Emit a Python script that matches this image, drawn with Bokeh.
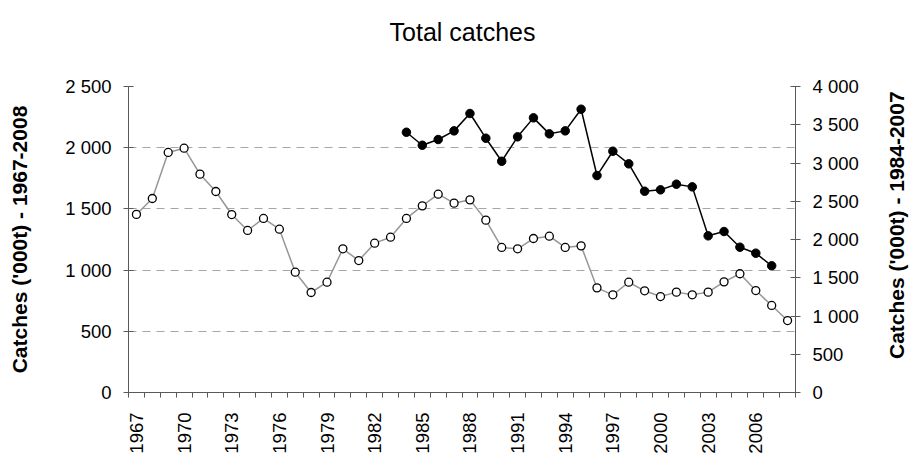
import math
from bokeh.plotting import figure
from bokeh.models import Range1d, LinearAxis, FixedTicker, Grid
from bokeh.layouts import column, row
from bokeh.core.properties import value
from bokeh.embed import file_html
from bokeh.resources import INLINE

# ---- data ----
years_all = list(range(1967, 2009))
catch_1967_2008 = [1455, 1585, 1961, 1996, 1784, 1642, 1454, 1324, 1422, 1334,
                   983, 817, 901, 1174, 1078, 1220, 1269, 1422, 1525, 1620,
                   1547, 1574, 1408, 1185, 1174, 1258, 1277, 1185, 1198, 855,
                   798, 901, 831, 784, 820, 798, 820, 904, 970, 833, 711, 588]
years_recent = list(range(1984, 2008))
catch_1984_2007 = [3402, 3232, 3307, 3420, 3647, 3324, 3023, 3342, 3590, 3381,
                   3420, 3703, 2836, 3154, 2989, 2631, 2649, 2723, 2688, 2048,
                   2104, 1899, 1821, 1656]
x_tick_years = list(range(1967, 2008, 3))
left_ticks = [0, 500, 1000, 1500, 2000, 2500]
right_ticks = [0, 500, 1000, 1500, 2000, 2500, 3000, 3500, 4000]
title_text = "Total catches"
left_title = "Catches ('000t) - 1967-2008"
right_title = "Catches ('000t) - 1984-2007"

FONT = "Liberation Sans"
AXIS_COL = "#595959"
TICK_FS = "18.5px"

W, H = 909, 456
TOP_H = 50          # strip holding the chart title
RIGHT_W = 29        # strip holding the right axis title
MAIN_W = W - RIGHT_W
MAIN_H = H - TOP_H


def fmt(v):
    return "{:,}".format(v).replace(",", " ")


def text_strip(width, height):
    f = figure(width=width, height=height, output_backend="svg", toolbar_location=None,
               x_range=Range1d(0, width), y_range=Range1d(0, height),
               x_axis_type=None, y_axis_type=None, min_border=0)
    f.outline_line_color = None
    f.grid.visible = False
    return f


# ---- title strip ----
ttl = text_strip(W, TOP_H)
ttl.text(x=[462], y=[TOP_H - 31], text=[title_text], text_align="center",
         text_baseline="alphabetic", text_font=value(FONT), text_font_size="25px",
         text_color="black")

# ---- main chart ----
X0, X1 = years_all[0] - 0.5, years_all[-1] + 0.5
p = figure(width=MAIN_W, height=MAIN_H, output_backend="svg", toolbar_location=None,
           x_range=Range1d(X0, X1), y_range=Range1d(0, 2500),
           x_axis_type=None, y_axis_type=None,
           min_border_left=128, min_border_right=MAIN_W - 795,
           min_border_top=86 - TOP_H, min_border_bottom=H - 392)
p.outline_line_color = None
p.xgrid.visible = False
p.extra_y_ranges = {"right": Range1d(0, 4000)}

# bottom axis: ticks between categories, labels every 3 years
xax = LinearAxis(ticker=FixedTicker(ticks=x_tick_years,
                                    minor_ticks=[y - 0.5 for y in years_all] + [X1]))
xax.major_label_overrides = {y: str(y) for y in x_tick_years}
xax.major_label_orientation = math.pi / 2
xax.major_tick_line_color = None
xax.minor_tick_in = 0
xax.minor_tick_out = 5
xax.minor_tick_line_color = AXIS_COL
xax.axis_line_color = AXIS_COL
xax.major_label_standoff = 14
xax.major_label_text_font = FONT
xax.major_label_text_font_size = TICK_FS
xax.major_label_text_color = "black"
p.add_layout(xax, "below")

# left axis
lax = LinearAxis(ticker=FixedTicker(ticks=left_ticks, minor_ticks=[]),
                 axis_label=left_title)
lax.major_label_overrides = {v: fmt(v) for v in left_ticks}
lax.major_tick_in = 5
lax.major_tick_out = 5
lax.major_tick_line_color = AXIS_COL
lax.axis_line_color = AXIS_COL
lax.major_label_standoff = 12
lax.major_label_text_font = FONT
lax.major_label_text_font_size = TICK_FS
lax.major_label_text_color = "black"
lax.axis_label_text_font = FONT
lax.axis_label_text_font_size = "21px"
lax.axis_label_text_font_style = "bold"
lax.axis_label_text_color = "black"
lax.axis_label_standoff = 31
p.add_layout(lax, "left")

# right axis
rax = LinearAxis(y_range_name="right", ticker=FixedTicker(ticks=right_ticks, minor_ticks=[]))
rax.major_label_overrides = {v: fmt(v) for v in right_ticks}
rax.major_tick_in = 5
rax.major_tick_out = 5
rax.major_tick_line_color = AXIS_COL
rax.axis_line_color = AXIS_COL
rax.major_label_standoff = 12
rax.major_label_text_font = FONT
rax.major_label_text_font_size = TICK_FS
rax.major_label_text_color = "black"
p.add_layout(rax, "right")

# dashed horizontal gridlines
g = Grid(dimension=1, ticker=FixedTicker(ticks=left_ticks[1:]))
g.grid_line_color = "#a6a6a6"
g.grid_line_dash = "8 6"
g.grid_line_width = 1
p.add_layout(g)

# series
p.line(years_all, catch_1967_2008, line_color="#969696", line_width=1.5)
p.scatter(years_all, catch_1967_2008, size=8, marker="circle",
          fill_color="white", line_color="black", line_width=1.3)
p.line(years_recent, catch_1984_2007, y_range_name="right",
       line_color="black", line_width=1.5)
p.scatter(years_recent, catch_1984_2007, y_range_name="right", size=8.5,
          marker="circle", fill_color="black", line_color="black")

# ---- right axis title strip (reads bottom-to-top) ----
rt = text_strip(RIGHT_W, MAIN_H)
rt.text(x=[896 - MAIN_W], y=[H - 234], text=[right_title], angle=math.pi / 2,
        text_align="center", text_baseline="middle", text_font=value(FONT),
        text_font_size="21px", text_font_style="bold", text_color="black")

layout = column(ttl, row(p, rt, spacing=0), spacing=0)
open("out.html", "w").write(file_html(layout, INLINE))
